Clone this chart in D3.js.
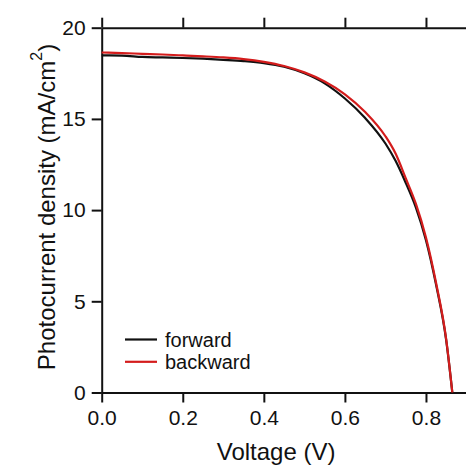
<!DOCTYPE html>
<html>
<head>
<meta charset="utf-8">
<script src="https://cdn.jsdelivr.net/npm/d3@7/dist/d3.min.js"></script>
<style>
  html, body { margin: 0; padding: 0; background: #fff; }
  svg { display: block; }
  text { font-family: "Liberation Sans", Arial, sans-serif; fill: #111; }
</style>
</head>
<body>
<svg id="chart" width="466" height="466"></svg>
<script>
// ---- data ----
const voltage = [0, 0.05, 0.1, 0.15, 0.2, 0.25, 0.3, 0.35, 0.4, 0.45, 0.5, 0.55, 0.6, 0.65, 0.7, 0.725, 0.75, 0.775, 0.8, 0.825, 0.85, 0.865];
const forward = [18.48, 18.47, 18.40, 18.37, 18.34, 18.30, 18.24, 18.17, 18.06, 17.86, 17.50, 16.95, 16.12, 15.05, 13.65, 12.70, 11.50, 10.15, 8.35, 5.90, 2.85, 0.0];
const backward = [18.64, 18.61, 18.57, 18.53, 18.48, 18.43, 18.37, 18.28, 18.13, 17.90, 17.55, 17.05, 16.35, 15.38, 14.05, 13.10, 11.75, 10.35, 8.50, 6.00, 2.90, 0.0];
const xTicks = [0, 0.2, 0.4, 0.6, 0.8];
const yTicks = [0, 5, 10, 15, 20];
const seriesNames = ["forward", "backward"];
const seriesColors = ["#111111", "#d41c1c"];

const svg = d3.select("#chart");
const x = d3.scaleLinear().domain([0, 0.9]).range([101.7, 466.5]);
const y = d3.scaleLinear().domain([0, 20]).range([392.5, 27.7]);

const fmtX = d3.format(".1f");

// bottom axis
const gB = svg.append("g").attr("transform", `translate(0,${y(0)})`)
  .call(d3.axisBottom(x).tickValues(xTicks).tickFormat(fmtX).tickSize(10).tickSizeOuter(0).tickPadding(8));
// top axis
const gT = svg.append("g").attr("transform", `translate(0,${y(20)})`)
  .call(d3.axisTop(x).tickValues(xTicks).tickFormat("").tickSize(10).tickSizeOuter(0));
// left axis
const gL = svg.append("g").attr("transform", `translate(${x(0)},0)`)
  .call(d3.axisLeft(y).tickValues(yTicks).tickSize(10).tickSizeOuter(0).tickPadding(6));
// right axis
const gR = svg.append("g").attr("transform", `translate(${x(0.9)},0)`)
  .call(d3.axisRight(y).tickValues([]).tickSize(0).tickSizeOuter(0));

[gB, gT, gL, gR].forEach(g => {
  g.select(".domain").attr("stroke", "#111").attr("stroke-width", 2);
  g.selectAll(".tick line").attr("stroke", "#111").attr("stroke-width", 2);
  g.selectAll(".tick text").attr("font-size", 21).attr("fill", "#111")
    .attr("font-family", '"Liberation Sans", Arial, sans-serif');
});

// lines
const line = d3.line().x(d => x(d[0])).y(d => y(d[1])).curve(d3.curveMonotoneX);
const series = [forward, backward];
series.forEach((vals, i) => {
  svg.append("path")
    .datum(voltage.map((v, j) => [v, vals[j]]))
    .attr("fill", "none")
    .attr("stroke", seriesColors[i])
    .attr("stroke-width", 2.2)
    .attr("stroke-linejoin", "round")
    .attr("d", line);
});

// legend
seriesNames.forEach((name, i) => {
  const ly = 339.5 + i * 22.3;
  svg.append("line").attr("x1", 125).attr("x2", 157).attr("y1", ly).attr("y2", ly)
    .attr("stroke", seriesColors[i]).attr("stroke-width", 2.2);
  svg.append("text").attr("x", 165).attr("y", ly + 7.3).attr("font-size", 20).text(name);
});

// axis titles
svg.append("text").attr("x", x(0.45) - 8).attr("y", 460).attr("text-anchor", "middle")
  .attr("font-size", 24).text("Voltage (V)");

const yt = svg.append("text")
  .attr("transform", `translate(55,207) rotate(-90)`)
  .attr("text-anchor", "middle")
  .attr("font-size", 24);
yt.append("tspan").text("Photocurrent density (mA/cm");
yt.append("tspan").attr("font-size", 16).attr("dy", -13).text("2");
yt.append("tspan").attr("dy", 13).text(")");
</script>
</body>
</html>
